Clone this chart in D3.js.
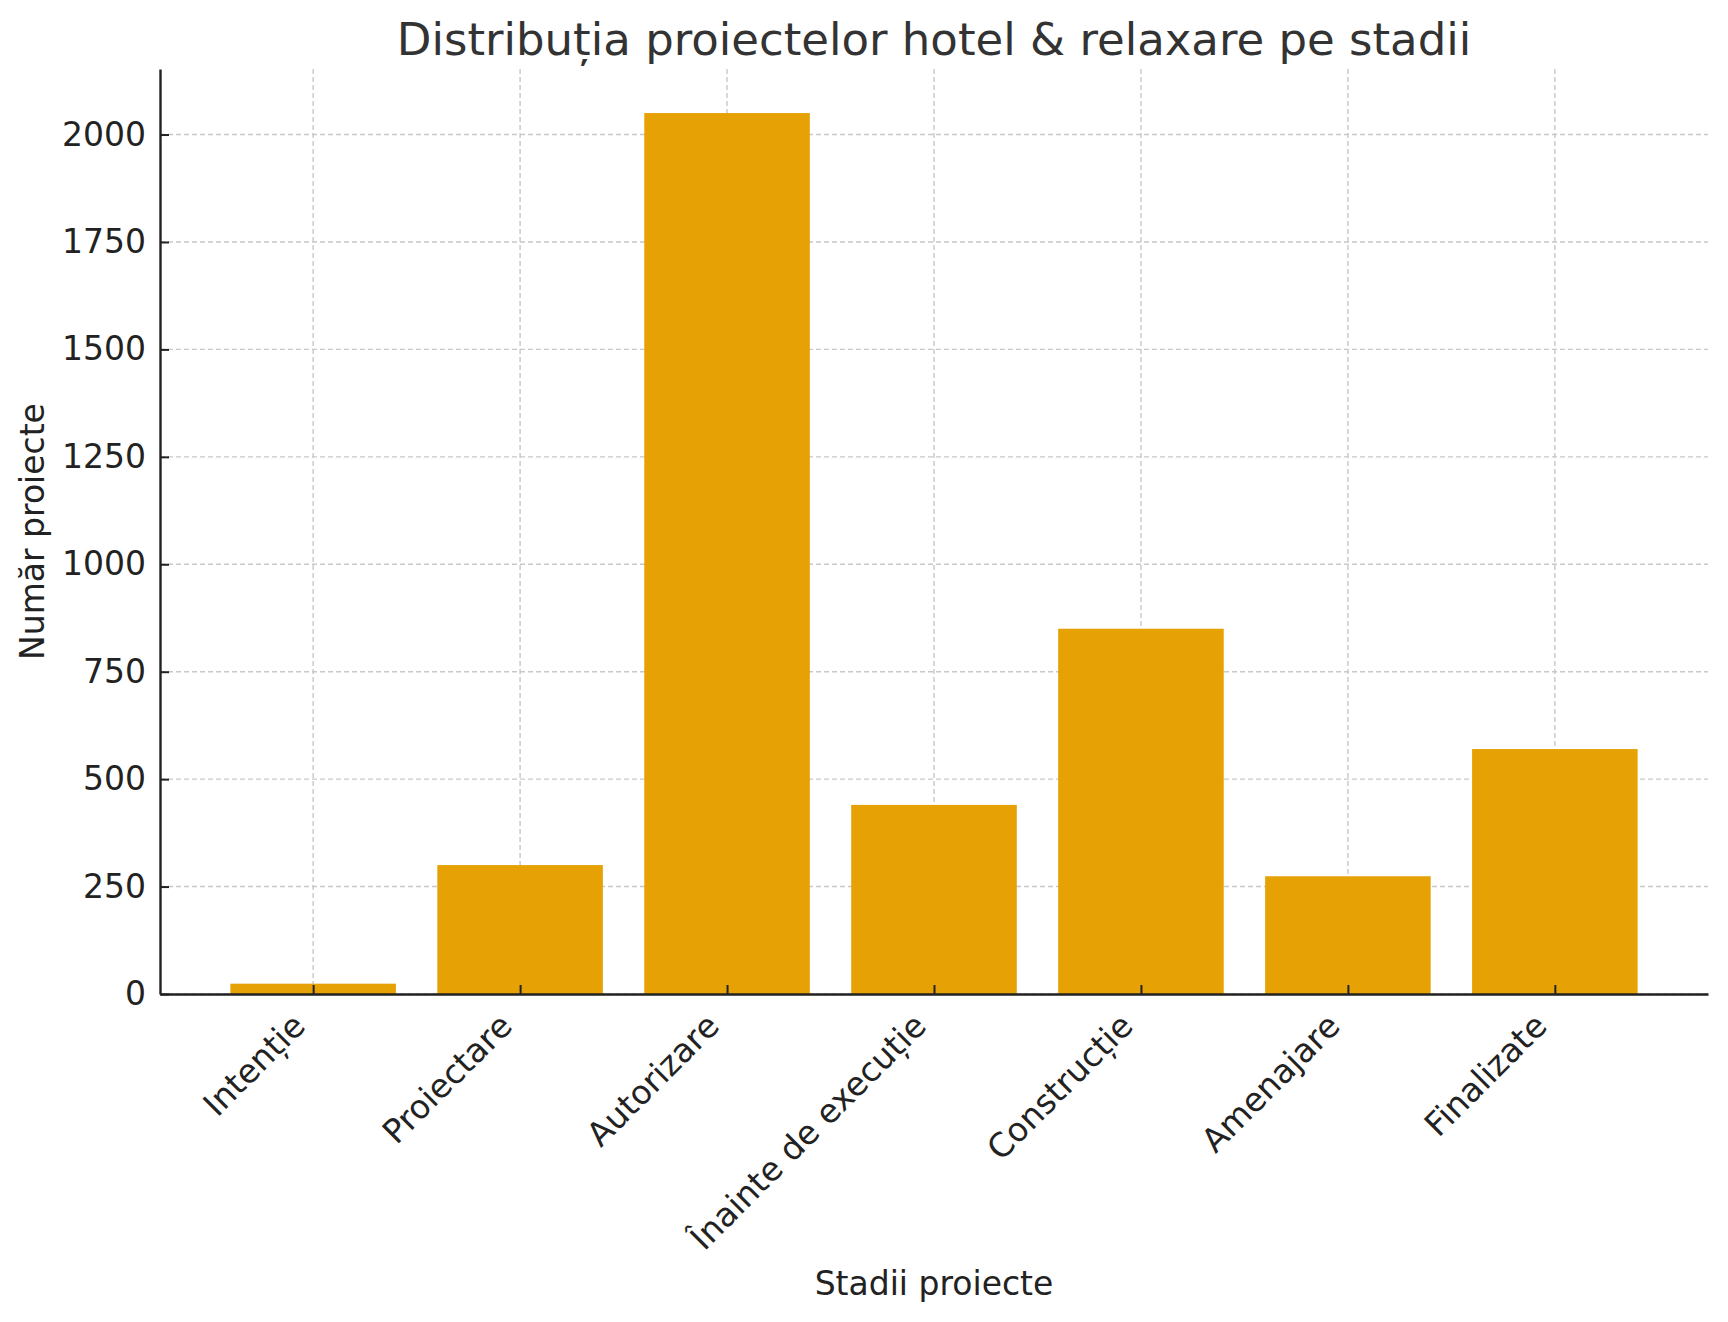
<!DOCTYPE html>
<html>
<head>
<meta charset="UTF-8">
<script src="https://d3js.org/d3.v7.min.js"></script>
<style>
  body { margin: 0; background: #fff; }
  text { font-family: "DejaVu Sans", sans-serif; }
</style>
</head>
<body>
<div id="chart"></div>
<script>
// data
var stages = ["Intenție", "Proiectare", "Autorizare", "Înainte de execuție", "Construcție", "Amenajare", "Finalizate"];
var counts = [24, 300, 2050, 440, 850, 274, 570];
var yTicks = [0, 250, 500, 750, 1000, 1250, 1500, 1750, 2000];

var W = 1728, H = 1322;
var margin = {top: 69, right: 20, bottom: 328, left: 160};
var width = W - margin.left - margin.right,
    height = H - margin.top - margin.bottom;

var svg = d3.select("#chart").append("svg")
    .attr("width", W)
    .attr("height", H);

var g = svg.append("g")
    .attr("transform", "translate(" + margin.left + "," + margin.top + ")");

// matplotlib-like: bar width 0.8, 5% margins
var x = d3.scaleLinear()
  .domain([-0.74, stages.length - 1 + 0.74])
  .range([0, width]);
var bw = x(0.8) - x(0);

var y = d3.scaleLinear()
  .domain([0, d3.max(counts) * 1.05])
  .range([height, 0]);

// grid
g.append("g").selectAll("line.gy")
  .data(yTicks)
  .enter().append("line")
    .attr("x1", 0).attr("x2", width)
    .attr("y1", function(d) { return y(d); })
    .attr("y2", function(d) { return y(d); })
    .attr("stroke", "#c8c8c8")
    .attr("stroke-width", 1.4)
    .attr("stroke-dasharray", "5,3");
g.append("g").selectAll("line.gx")
  .data(stages)
  .enter().append("line")
    .attr("x1", function(d, i) { return x(i); })
    .attr("x2", function(d, i) { return x(i); })
    .attr("y1", 0).attr("y2", height)
    .attr("stroke", "#c8c8c8")
    .attr("stroke-width", 1.4)
    .attr("stroke-dasharray", "5,3");

// bars
g.selectAll("rect")
  .data(counts)
  .enter().append("rect")
    .attr("x", function(d, i) { return x(i) - bw / 2; })
    .attr("y", function(d) { return y(d); })
    .attr("width", bw)
    .attr("height", function(d) { return height - y(d); })
    .attr("fill", "#E69F00")
    .attr("fill-opacity", 0.98);

// y axis
var yAxis = g.append("g")
  .call(d3.axisLeft(y).tickValues(yTicks).tickFormat(d3.format("d"))
    .tickSizeInner(-9).tickSizeOuter(0).tickPadding(14));
yAxis.select(".domain").attr("stroke", "#222").attr("stroke-width", 2.4);
yAxis.selectAll(".tick line").attr("stroke", "#222").attr("stroke-width", 2);
yAxis.selectAll(".tick text")
  .attr("font-size", "33px").attr("fill", "#222");

// x axis
var xAxis = g.append("g")
  .attr("transform", "translate(0," + height + ")")
  .call(d3.axisBottom(x).tickValues(d3.range(stages.length))
    .tickSizeInner(-9).tickSizeOuter(0).tickFormat(""));
xAxis.select(".domain").attr("stroke", "#222").attr("stroke-width", 2.4);
xAxis.selectAll(".tick line").attr("stroke", "#222").attr("stroke-width", 2);

// rotated tick labels (ha=right, rotation 45)
g.append("g").selectAll("text.xl")
  .data(stages)
  .enter().append("text")
    .attr("transform", function(d, i) {
      return "translate(" + (x(i) - 6) + "," + (height + 34) + ") rotate(-45)";
    })
    .attr("text-anchor", "end")
    .attr("font-size", "33px")
    .attr("fill", "#222")
    .text(function(d) { return d; });

// titles
svg.append("text")
  .attr("x", margin.left + width / 2)
  .attr("y", 55)
  .attr("text-anchor", "middle")
  .attr("font-size", "45px")
  .attr("fill", "#333")
  .text("Distribuția proiectelor hotel & relaxare pe stadii");

svg.append("text")
  .attr("x", margin.left + width / 2)
  .attr("y", 1295)
  .attr("text-anchor", "middle")
  .attr("font-size", "33px")
  .attr("fill", "#222")
  .text("Stadii proiecte");

svg.append("text")
  .attr("transform", "translate(44," + (margin.top + height / 2) + ") rotate(-90)")
  .attr("text-anchor", "middle")
  .attr("font-size", "33px")
  .attr("fill", "#222")
  .text("Număr proiecte");
</script>
</body>
</html>
